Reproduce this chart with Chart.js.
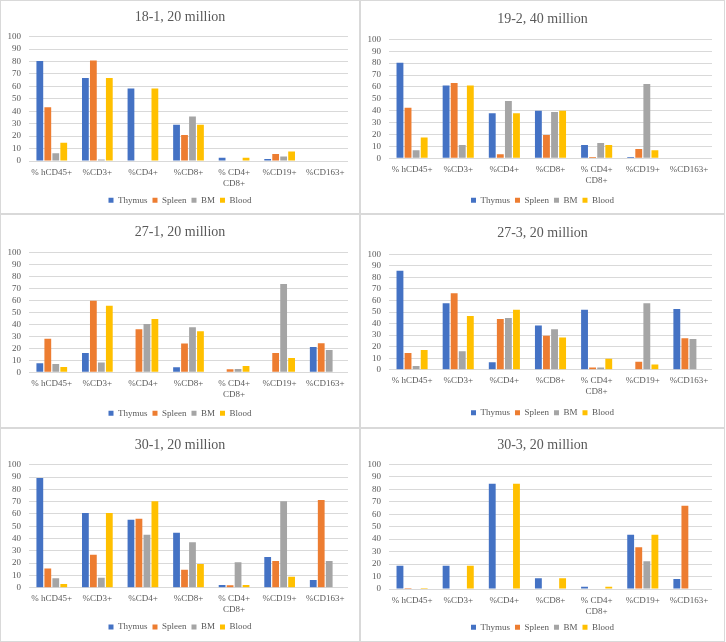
<!DOCTYPE html>
<html>
<head>
<meta charset="utf-8">
<script src="https://cdn.jsdelivr.net/npm/chart.js@4.4.1/dist/chart.umd.min.js"></script>
<style>
  body { margin: 0; background: #fff; }
  #wrap { position: relative; width: 726px; height: 642px; }
  .panel { position: absolute; box-sizing: border-box; border: 1px solid #d9d9d9; background: #fff; }
  .panel canvas { display: block; }
</style>
</head>
<body>
<div id="wrap"></div>
<script>
// ── Data ─────────────────────────────────────────────────
const categories = ['% hCD45+', '%CD3+', '%CD4+', '%CD8+', ['% CD4+', 'CD8+'], '%CD19+', '%CD163+'];
const tissues    = ['Thymus', 'Spleen', 'BM', 'Blood'];
const colors     = ['#4472C4', '#ED7D31', '#A5A5A5', '#FFC000'];
const titles     = ['18-1, 20 million', '19-2, 40 million', '27-1, 20 million',
                    '27-3, 20 million', '30-1, 20 million', '30-3, 20 million'];
const yMin = 0, yMax = 100, yStep = 10;

const thymus18_1 = [80.5, 66.8, 58.3, 29.1, 2.6, 1.6, 0];
const spleen18_1 = [43.3, 80.8, 0, 20.9, 0, 5.6, 0];
const bm18_1     = [6.2, 1.3, 0, 35.9, 0, 3.7, 0];
const blood18_1  = [14.7, 66.8, 58.3, 29.1, 2.6, 7.7, 0];

const thymus19_2 = [80.2, 61.1, 37.8, 40.0, 11.2, 1.1, 0];
const spleen19_2 = [42.5, 63.3, 3.4, 19.6, 1.1, 7.8, 0];
const bm19_2     = [6.7, 11.2, 48.2, 38.9, 12.9, 62.5, 0];
const blood19_2  = [17.4, 61.1, 37.8, 40.0, 11.2, 6.7, 0];

const thymus27_1 = [7.5, 16.2, 0, 4.2, 0, 0, 21.2];
const spleen27_1 = [28.1, 59.9, 35.9, 24.0, 2.5, 16.2, 24.2];
const bm27_1     = [7.0, 8.1, 40.4, 37.6, 2.8, 73.8, 18.7];
const blood27_1  = [4.5, 55.7, 44.6, 34.3, 5.3, 12.0, 0];

const thymus27_3 = [85.8, 57.5, 6.4, 38.4, 52.0, 0, 52.6];
const spleen27_3 = [14.5, 66.2, 43.9, 29.5, 2.0, 6.9, 27.2];
const bm27_3     = [3.2, 15.9, 44.8, 35.0, 2.0, 57.5, 26.6];
const blood27_3  = [17.0, 46.5, 52.0, 28.0, 9.5, 4.6, 0];

const thymus30_1 = [89.2, 60.7, 55.3, 44.7, 2.2, 24.9, 6.2];
const spleen30_1 = [15.7, 26.8, 56.1, 14.6, 1.9, 21.7, 71.3];
const bm30_1     = [7.6, 8.1, 43.1, 36.9, 20.6, 70.2, 21.7];
const blood30_1  = [3.0, 60.7, 70.2, 19.2, 2.2, 8.9, 0];

const thymus30_3 = [18.7, 18.7, 84.5, 8.6, 1.9, 43.6, 8.0];
const spleen30_3 = [0.8, 0, 0, 0, 0, 33.4, 66.8];
const bm30_3     = [0, 0, 0, 0, 0, 22.2, 0];
const blood30_3  = [0.8, 18.7, 84.5, 8.6, 1.9, 43.6, 0];

const panelSeries = [
  [thymus18_1, spleen18_1, bm18_1, blood18_1],
  [thymus19_2, spleen19_2, bm19_2, blood19_2],
  [thymus27_1, spleen27_1, bm27_1, blood27_1],
  [thymus27_3, spleen27_3, bm27_3, blood27_3],
  [thymus30_1, spleen30_1, bm30_1, blood30_1],
  [thymus30_3, spleen30_3, bm30_3, blood30_3],
];

// ── Layout (canvas px) ───────────────────────────────────
// title centre, plot top, plot bottom, legend centre
const frames = [
  { titleY: 16.7, top: 35.7, bottom: 160.0, legendY: 199.3 },
  { titleY: 18.0, top: 38.3, bottom: 157.3, legendY: 199.3 },
  { titleY: 17.7, top: 37.7, bottom: 157.3, legendY: 198.3 },
  { titleY: 18.7, top: 39.3, bottom: 154.7, legendY: 197.7 },
  { titleY: 16.0, top: 35.7, bottom: 158.7, legendY: 198.0 },
  { titleY: 16.0, top: 35.3, bottom: 160.0, legendY: 198.3 },
];

const FONT = "'Liberation Serif', 'Times New Roman', serif";
const TEXT = '#595959';
const GRID = '#d9d9d9';
const CANVAS_H = 212;
const LEG_PAD = 5, LEG_FONT = 9;

function makePanel(i) {
  const col = i % 2, row = Math.floor(i / 2);
  const pw = col ? 365 : 360;
  const div = document.createElement('div');
  div.className = 'panel';
  div.style.left = (col ? 360 : 0) + 'px';
  div.style.top = (row * 214) + 'px';
  div.style.width = pw + 'px';
  div.style.height = (CANVAS_H + 2) + 'px';
  const cv = document.createElement('canvas');
  cv.width = pw - 2;
  cv.height = CANVAS_H;
  div.appendChild(cv);
  document.getElementById('wrap').appendChild(div);

  const f = frames[i];
  const titleH = 14 * 1.2;
  const legendH = LEG_FONT + LEG_PAD + 10;
  const padBottom = 202 - LEG_FONT / 2 - f.legendY;
  const xAxisH = (CANVAS_H - padBottom - legendH) - f.bottom;
  const rightGap = col ? 12 : 11;

  new Chart(cv, {
    type: 'bar',
    data: {
      labels: categories,
      datasets: tissues.map((t, k) => ({
        label: t,
        data: panelSeries[i][k],
        backgroundColor: colors[k],
        borderWidth: 0,
        categoryPercentage: 0.7,
        barPercentage: 0.85,
      })),
    },
    options: {
      responsive: false,
      maintainAspectRatio: false,
      animation: false,
      layout: { padding: { top: 0, left: 0, right: 0, bottom: padBottom } },
      scales: {
        x: {
          grid: { display: false, drawTicks: false },
          border: { display: false },
          ticks: { color: TEXT, font: { family: FONT, size: 9 }, padding: 6, maxRotation: 0, autoSkip: false },
          afterFit: s => { s.height = xAxisH; },
        },
        y: {
          min: yMin, max: yMax,
          grid: { color: GRID, drawTicks: false },
          border: { display: false },
          ticks: { stepSize: yStep, autoSkip: false, color: TEXT, font: { family: FONT, size: 9 }, padding: 8 },
          afterFit: s => { s.width = 28; },
        },
        // empty right-hand strip so title and legend stay centred on the panel
        yRight: {
          type: 'linear',
          position: 'right',
          min: yMin, max: yMax,
          grid: { display: false, drawTicks: false },
          border: { display: false },
          ticks: { display: false },
          afterFit: s => { s.width = rightGap; },
        },
      },
      plugins: {
        title: {
          display: true,
          text: titles[i],
          color: TEXT,
          font: { family: FONT, size: 14, weight: 'normal' },
          padding: { top: f.titleY - titleH / 2, bottom: f.top - f.titleY - titleH / 2 },
        },
        legend: {
          position: 'bottom',
          labels: {
            color: TEXT,
            font: { family: FONT, size: LEG_FONT },
            boxWidth: 5, boxHeight: 5,
            padding: LEG_PAD,
          },
        },
        tooltip: { enabled: false },
      },
    },
  });
}

for (let i = 0; i < 6; i++) makePanel(i);
</script>
</body>
</html>
